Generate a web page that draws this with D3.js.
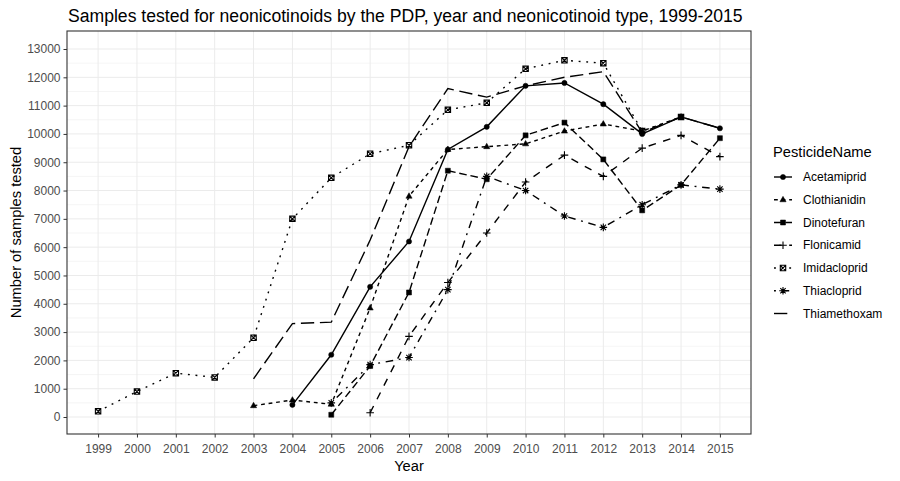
<!DOCTYPE html>
<html>
<head>
<meta charset="utf-8">
<script src="https://cdn.jsdelivr.net/npm/d3@7"></script>
<style>
  body { margin: 0; background: #fff; }
  text { font-family: "Liberation Sans", Arial, sans-serif; }
</style>
</head>
<body>
<div id="chart"></div>
<script>
// values (null = not tested that year)
var years = [1999, 2000, 2001, 2002, 2003, 2004, 2005, 2006, 2007, 2008, 2009, 2010, 2011, 2012, 2013, 2014, 2015];
var pesticides = ['Acetamiprid', 'Clothianidin', 'Dinotefuran', 'Flonicamid', 'Imidacloprid', 'Thiacloprid', 'Thiamethoxam'];
var acetamiprid  = [null, null, null, null, null, 430, 2200, 4600, 6200, 9450, 10250, 11700, 11800, 11050, 10000, 10600, 10200];
var clothianidin = [null, null, null, null, 400, 600, 450, 3850, 7800, 9450, 9550, 9650, 10100, 10350, 10100, 10600, null];
var dinotefuran  = [null, null, null, null, null, null, 80, 1800, 4400, 8700, 8400, 9950, 10400, 9100, 7300, 8200, 9850];
var flonicamid   = [null, null, null, null, null, null, null, 150, 2850, 4750, 6500, 8300, 9250, 8500, 9500, 9950, 9200];
var imidacloprid = [200, 900, 1550, 1400, 2800, 7000, 8450, 9300, 9600, 10850, 11100, 12300, 12600, 12500, 10100, 10600, null];
var thiacloprid  = [null, null, null, null, null, null, 500, 1850, 2100, 4500, 8500, 8000, 7100, 6700, 7500, 8200, 8050];
var thiamethoxam = [null, null, null, null, 1350, 3300, 3350, 6250, 9550, 11600, 11300, 11700, 12000, 12200, 10050, 10600, 10200];
var yTicks = [0, 1000, 2000, 3000, 4000, 5000, 6000, 7000, 8000, 9000, 10000, 11000, 12000, 13000];

var seriesValues = [acetamiprid, clothianidin, dinotefuran, flonicamid, imidacloprid, thiacloprid, thiamethoxam];

// ggplot-ish default linetypes and shapes
var dashes = ['', '3.8,3.8', '7.6,3.8', '7.6,7.6', '1.9,5.7', '1.9,5.7,7.6,5.7', '13.3,5.7'];
var shapes = ['circle', 'triangle', 'square', 'plus', 'squarecross', 'asterisk', null];

var width = 900, height = 481;
var margin = { top: 31, right: 149, bottom: 47, left: 67 };
var pw = width - margin.left - margin.right;
var ph = height - margin.top - margin.bottom;

var svg = d3.select('#chart').append('svg')
    .attr('width', width)
    .attr('height', height);

var x = d3.scalePoint()
    .domain(years)
    .range([0, pw])
    .padding(0.8);

var y = d3.scaleLinear()
    .domain([-600, 13636])
    .range([ph, 0]);

var g = svg.append('g')
    .attr('transform', 'translate(' + margin.left + ',' + margin.top + ')');

// grid
g.append('g').selectAll('line')
    .data(yTicks)
    .enter().append('line')
    .attr('x1', 0).attr('x2', pw)
    .attr('y1', function(d) { return y(d); })
    .attr('y2', function(d) { return y(d); })
    .style('stroke', '#ebebeb').style('stroke-width', 1);
g.append('g').selectAll('line')
    .data(yTicks.slice(0, -1))
    .enter().append('line')
    .attr('x1', 0).attr('x2', pw)
    .attr('y1', function(d) { return y(d + 500); })
    .attr('y2', function(d) { return y(d + 500); })
    .style('stroke', '#ebebeb').style('stroke-width', 0.5);
g.append('g').selectAll('line')
    .data(years)
    .enter().append('line')
    .attr('y1', 0).attr('y2', ph)
    .attr('x1', function(d) { return x(d); })
    .attr('x2', function(d) { return x(d); })
    .style('stroke', '#ebebeb').style('stroke-width', 1);

// axes
var yAxis = g.append('g')
    .call(d3.axisLeft(y).tickValues(yTicks).tickFormat(d3.format('d')).tickSize(3.5).tickPadding(3));
var xAxis = g.append('g')
    .attr('transform', 'translate(0,' + ph + ')')
    .call(d3.axisBottom(x).tickSize(3.5).tickPadding(4));
[xAxis, yAxis].forEach(function(a) {
  a.select('.domain').remove();
  a.selectAll('line').style('stroke', '#333333');
  a.selectAll('text')
      .style('fill', '#4d4d4d')
      .style('font-size', '12px')
      .style('font-family', '"Liberation Sans", Arial, sans-serif');
});
xAxis.selectAll('text').attr('dy', '0.95em');

function symbolPath(shape) {
  switch (shape) {
    case 'circle': return 'M2.6,0A2.6,2.6 0 1,1 -2.6,0A2.6,2.6 0 1,1 2.6,0Z';
    case 'triangle': return 'M0,-3.4L3.1,2L-3.1,2Z';
    case 'square': return 'M-2.5,-2.5H2.5V2.5H-2.5Z';
    case 'plus': return 'M-3.8,0H3.8M0,-3.8V3.8';
    case 'squarecross': return 'M-2.7,-2.7H2.7V2.7H-2.7ZM-2.7,-2.7L2.7,2.7M2.7,-2.7L-2.7,2.7';
    case 'asterisk': return 'M-3.8,0H3.8M0,-3.8V3.8M-2.7,-2.7L2.7,2.7M2.7,-2.7L-2.7,2.7';
  }
  return null;
}
function drawSymbol(sel, shape) {
  if (!shape) return;
  var filled = shape == 'circle' || shape == 'triangle' || shape == 'square';
  sel.append('path')
      .attr('d', symbolPath(shape))
      .style('fill', filled ? '#000' : 'none')
      .style('stroke', '#000')
      .style('stroke-width', filled ? 0.5 : 1.1);
}

var line = d3.line()
    .defined(function(d) { return d.v != null; })
    .x(function(d) { return x(d.year); })
    .y(function(d) { return y(d.v); });

var series = pesticides.map(function(name, i) {
  return {
    name: name,
    index: i,
    points: years.map(function(yr, j) { return { year: yr, v: seriesValues[i][j] }; })
  };
});

var plot = g.append('g');
series.forEach(function(s) {
  plot.append('path')
      .datum(s.points)
      .attr('d', line)
      .style('fill', 'none')
      .style('stroke', '#000')
      .style('stroke-width', 1.4)
      .style('stroke-dasharray', dashes[s.index]);
});
series.forEach(function(s) {
  s.points.filter(function(d) { return d.v != null; }).forEach(function(d) {
    var p = plot.append('g').attr('transform', 'translate(' + x(d.year) + ',' + y(d.v) + ')');
    drawSymbol(p, shapes[s.index]);
  });
});

// panel border
g.append('rect')
    .attr('width', pw).attr('height', ph)
    .style('fill', 'none').style('stroke', '#333333').style('stroke-width', 1.1);

// titles
svg.append('text')
    .attr('x', margin.left + 1)
    .attr('y', 22)
    .style('font-size', '17.6px')
    .style('fill', '#000')
    .text('Samples tested for neonicotinoids by the PDP, year and neonicotinoid type, 1999-2015');

svg.append('text')
    .attr('x', margin.left + pw / 2)
    .attr('y', 471)
    .attr('text-anchor', 'middle')
    .style('font-size', '14.7px')
    .text('Year');

svg.append('text')
    .attr('transform', 'translate(21,' + (margin.top + ph / 2) + ') rotate(-90)')
    .attr('text-anchor', 'middle')
    .style('font-size', '14.7px')
    .text('Number of samples tested');

// legend
var legend = svg.append('g').attr('transform', 'translate(773,0)');
legend.append('text')
    .attr('x', 0).attr('y', 157)
    .style('font-size', '14.7px')
    .text('PesticideName');

var ly = d3.scalePoint()
    .domain(pesticides)
    .range([177, 313.5]);

var item = legend.selectAll('g.item')
    .data(series)
    .enter().append('g')
    .attr('class', 'item')
    .attr('transform', function(d) { return 'translate(0,' + ly(d.name) + ')'; });
item.append('line')
    .attr('x1', 1).attr('x2', 19)
    .style('stroke', '#000')
    .style('stroke-width', 1.4)
    .style('stroke-dasharray', function(d) { return dashes[d.index]; });
item.each(function(d) {
  var p = d3.select(this).append('g').attr('transform', 'translate(10,0)');
  drawSymbol(p, shapes[d.index]);
});
item.append('text')
    .attr('x', 30)
    .attr('dy', '0.35em')
    .style('font-size', '12px')
    .text(function(d) { return d.name; });
</script>
</body>
</html>
